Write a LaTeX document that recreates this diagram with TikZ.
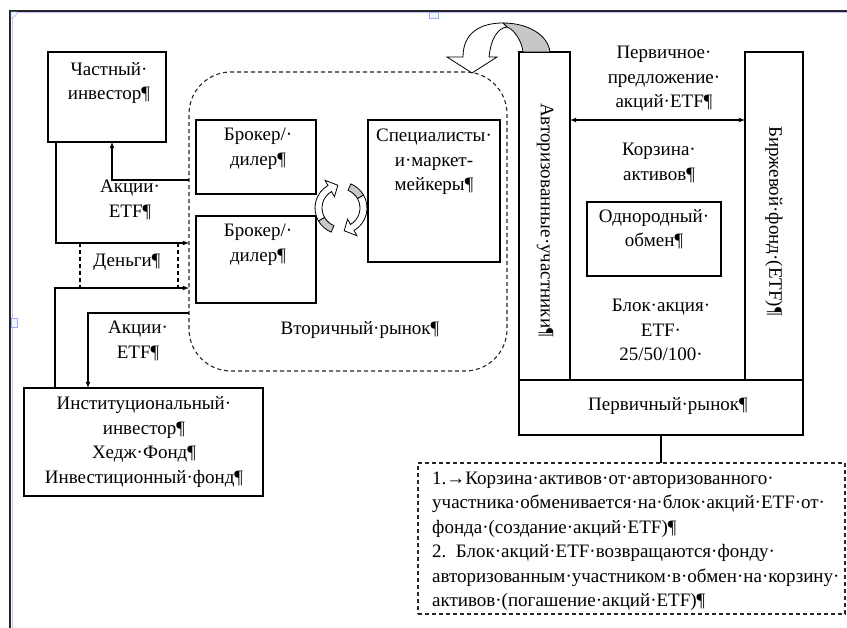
\documentclass[tikz,border=0pt]{standalone}
\usepackage{fontspec}
\setmainfont{Liberation Serif}
\begin{document}
\begin{tikzpicture}[x=1pt,y=-1pt,>=latex,
    font=\fontsize{19}{24.5}\selectfont,
    box/.style={draw,line width=1.1pt,inner sep=0pt,outer sep=0pt,anchor=north west},
    dbox/.style={box,draw=black!85,dash pattern=on 4pt off 3pt},
    txt/.style={align=center,inner sep=0pt},
    conn/.style={line width=1.1pt}]
\useasboundingbox (0,0) rectangle (847,628);

% page frame and handles
\draw[line width=2pt,black!85] (10,628) -- (10,11) -- (847,11);
\draw[line width=1pt,blue!25] (12,628) -- (12,13) -- (847,13);
\draw[fill=cyan!8,draw=blue!35] (429,12) rectangle (438,18);
\draw[fill=cyan!8,draw=blue!35] (11,318) rectangle (17,327);
\draw[fill=cyan!8,draw=blue!35] (11,12) -- (17,12) arc[start angle=0,end angle=90,radius=6] -- cycle;

% secondary market
\node[dbox,rounded corners=42pt,minimum width=318pt,minimum height=299pt] (sec) at (189,72) {};
\node[box,minimum width=118pt,minimum height=90pt] (priv) at (48,52) {};
\node[txt] (privtxt) at (109,83) {Частный·\\инвестор¶};
\node[box,minimum width=120pt,minimum height=74pt] (brk1) at (196,120) {};
\node[txt] (brk1txt) at (258,149) {Брокер/·\\дилер¶};
\node[box,minimum width=120pt,minimum height=87pt] (brk2) at (196,216) {};
\node[txt] (brk2txt) at (258,245) {Брокер/·\\дилер¶};
\node[box,minimum width=132pt,minimum height=142pt] (spec) at (368,120) {};
\node[txt] (spectxt) at (434,162) {Специалисты·\\и·маркет-\\мейкеры¶};
\node[txt] (sectxt) at (360,330) {Вторичный·рынок¶};
\node[box,minimum width=239pt,minimum height=108pt] (inst) at (24,388) {};
\node[txt] (insttxt) at (144,442) {Институциональный·\\инвестор¶\\Хедж·Фонд¶\\Инвестиционный·фонд¶};

% flows on the left
\coordinate (p1) at (112,180);
\coordinate (p2) at (56,243);
\coordinate (p3) at (55,288);
\coordinate (p4) at (88,313);
\coordinate (m1) at (80,243);
\coordinate (m2) at (178,243);
\draw[conn,->] (sec.west |- p1) -| (priv.south -| p1);
\draw[conn,->] (priv.south -| p2) |- (sec.west |- p2);
\draw[conn,->] (inst.north -| p3) |- (sec.west |- p3);
\draw[conn,->] (sec.west |- p4) -| (inst.north -| p4);
\draw[conn,dash pattern=on 4pt off 3pt] (m1) -- (m1 |- p3);
\draw[conn,dash pattern=on 4pt off 3pt] (m2) -- (m2 |- p3);
\node[txt] (etf1) at (130,200) {Акции·\\ETF¶};
\node[txt] (money) at (127,262) {Деньги¶};
\node[txt] (etf2) at (138,341) {Акции·\\ETF¶};

% circular arrows
\begin{scope}[shift={(341,208)},line width=0.8pt]
  \filldraw[fill=white] (150:26) arc[start angle=150,end angle=240,radius=26] -- (240:32) -- (262:23) -- (240:13) -- (240:19) arc[start angle=240,end angle=150,radius=19] -- cycle;
  \filldraw[fill=black!22] (112:26) arc[start angle=112,end angle=150,radius=26] -- (150:19) arc[start angle=150,end angle=112,radius=19] -- cycle;
  \filldraw[fill=white] (330:26) arc[start angle=330,end angle=420,radius=26] -- (60:32) -- (82:23) -- (60:13) -- (60:19) arc[start angle=420,end angle=330,radius=19] -- cycle;
  \filldraw[fill=black!22] (292:26) arc[start angle=292,end angle=330,radius=26] -- (330:19) arc[start angle=330,end angle=292,radius=19] -- cycle;
\end{scope}

% primary market
\node[box,minimum width=51pt,minimum height=328pt] (auth) at (519,52) {};
\node[txt,rotate=-90] (authtxt) at (545,220) {Авторизованные·участники¶};
\node[box,minimum width=58pt,minimum height=328pt] (etf) at (745,52) {};
\node[txt,rotate=-90] (etftxt) at (774,221) {Биржевой·фонд·(ETF)¶};
\node[box,minimum width=284pt,minimum height=55pt] (prim) at (519,380) {};
\node[txt] (primtxt) at (668,406) {Первичный·рынок¶};
\node[box,minimum width=134pt,minimum height=74pt] (homo) at (587,202) {};
\node[txt] (homotxt) at (654,229) {Однородный·\\обмен¶};
\coordinate (q) at (660,120);
\draw[conn,<->] (auth.east |- q) -- (etf.west |- q);
\node[txt] (offer) at (664,79) {Первичное·\\предложение·\\акций·ETF¶};
\node[txt] (basket) at (659,163) {Корзина·\\активов¶};
\node[txt] (block) at (661,330) {Блок·акция·\\ETF·\\25/50/100·};

% curved arrow over the participants
\begin{scope}[line width=0.8pt]
  \filldraw[fill=black!22] (503,23) .. controls (528,23) and (548,35) .. (550,52) -- (523,52) .. controls (522,42) and (515,30) .. (507,27) -- cycle;
  \filldraw[fill=white] (463,57) .. controls (463,33) and (480,23) .. (503,23) -- (507,27) .. controls (498,28) and (491,38) .. (489,57) -- (497,57) -- (472,73) -- (447,57) -- cycle;
\end{scope}

% note
\node[dbox,minimum width=427pt,minimum height=151pt] (note) at (418,463) {};
\draw[conn] (prim.south) -- (note.north -| prim.south);
\node[txt,align=left,anchor=west] (notetxt) at (432,541) {1.→Корзина·активов·от·авторизованного·\\участника·обменивается·на·блок·акций·ETF·от·\\фонда·(создание·акций·ETF)¶\\2.\ \ Блок·акций·ETF·возвращаются·фонду·\\авторизованным·участником·в·обмен·на·корзину·\\активов·(погашение·акций·ETF)¶};
\end{tikzpicture}
\end{document}
